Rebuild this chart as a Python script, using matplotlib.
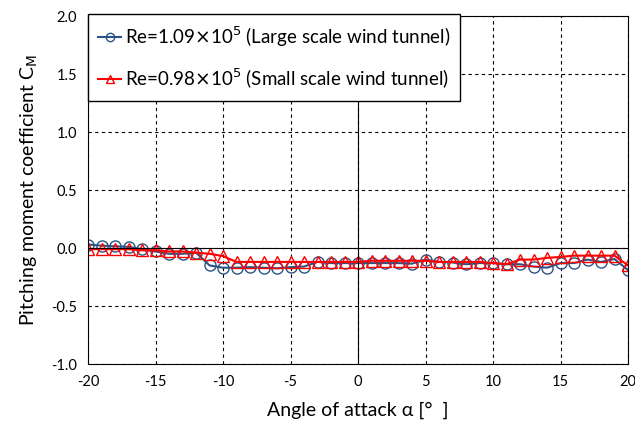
import numpy as np
import matplotlib
matplotlib.use("Agg")
import matplotlib.pyplot as plt

# angle of attack [deg]
alpha = list(range(-20, 21))

# Re=1.09e5, large scale wind tunnel
cm_large = [0.03, 0.02, 0.015, 0.01, -0.01, -0.03, -0.05, -0.05, -0.04, -0.15,
            -0.17, -0.17, -0.165, -0.17, -0.175, -0.165, -0.16, -0.12, -0.13, -0.13,
            -0.13, -0.13, -0.13, -0.13, -0.135, -0.10, -0.12, -0.125, -0.14, -0.13,
            -0.13, -0.14, -0.14, -0.16, -0.17, -0.13, -0.13, -0.10, -0.12, -0.095,
            -0.19]

# Re=0.98e5, small scale wind tunnel
cm_small = [-0.01, -0.01, -0.01, -0.01, -0.02, -0.02, -0.03, -0.03, -0.04, -0.05,
            -0.07, -0.12, -0.12, -0.12, -0.12, -0.12, -0.12, -0.12, -0.12, -0.12,
            -0.12, -0.11, -0.11, -0.11, -0.11, -0.11, -0.12, -0.12, -0.12, -0.12,
            -0.13, -0.14, -0.10, -0.10, -0.085, -0.077, -0.066, -0.066, -0.066, -0.066,
            -0.15]

xticks = [-20, -15, -10, -5, 0, 5, 10, 15, 20]
yticks = [-1.0, -0.5, 0.0, 0.5, 1.0, 1.5, 2.0]

plt.rcParams['font.family'] = ['Lato', 'DejaVu Sans']
plt.rcParams['axes.unicode_minus'] = False

fig = plt.figure(figsize=(6.35, 4.23), dpi=100)
ax = fig.add_axes([88 / 635, 1 - 364 / 423, 540 / 635, 348 / 423])

ax.plot(alpha, cm_large, color='#2B5486', lw=1.5, marker='o', ms=8,
        mfc='none', mec='#2B5486', mew=1.0,
        label=r'Re=1.09$\times$10$^5$ (Large scale wind tunnel)')
ax.plot(alpha, cm_small, color='#FF0000', lw=1.5, marker='^', ms=8,
        mfc='none', mec='#FF0000', mew=1.0,
        label=r'Re=0.98$\times$10$^5$ (Small scale wind tunnel)')

ax.set_xlim(-20, 20)
ax.set_ylim(-1.0, 2.0)
ax.set_xticks(xticks)
ax.set_yticks(yticks)
ax.set_xticklabels([str(v) for v in xticks])
ax.set_yticklabels([f'{v:.1f}' for v in yticks])
ax.tick_params(length=0, labelsize=10.5, pad=8)
ax.grid(True, color='black', ls=(0, (3, 3)), lw=0.8)
ax.axhline(0, color='black', lw=0.8)
ax.axvline(0, color='black', lw=0.8)
for s in ax.spines.values():
    s.set_color('black')
    s.set_linewidth(0.8)

ax.set_xlabel('Angle of attack α [°  ]', fontsize=14, labelpad=9)
ax.set_ylabel('Pitching moment coefficient C$_\\mathrm{M}$', fontsize=14, labelpad=8)

leg = ax.legend(loc='upper left', bbox_to_anchor=(0, 1.006), fontsize=13.5,
                frameon=True, fancybox=False, edgecolor='black', framealpha=1,
                handlelength=1.2, handletextpad=0.2, labelspacing=0.95,
                borderpad=0.55, borderaxespad=0, markerscale=0.75)
leg.get_frame().set_linewidth(1.0)

fig.savefig('out.png', dpi=100)
